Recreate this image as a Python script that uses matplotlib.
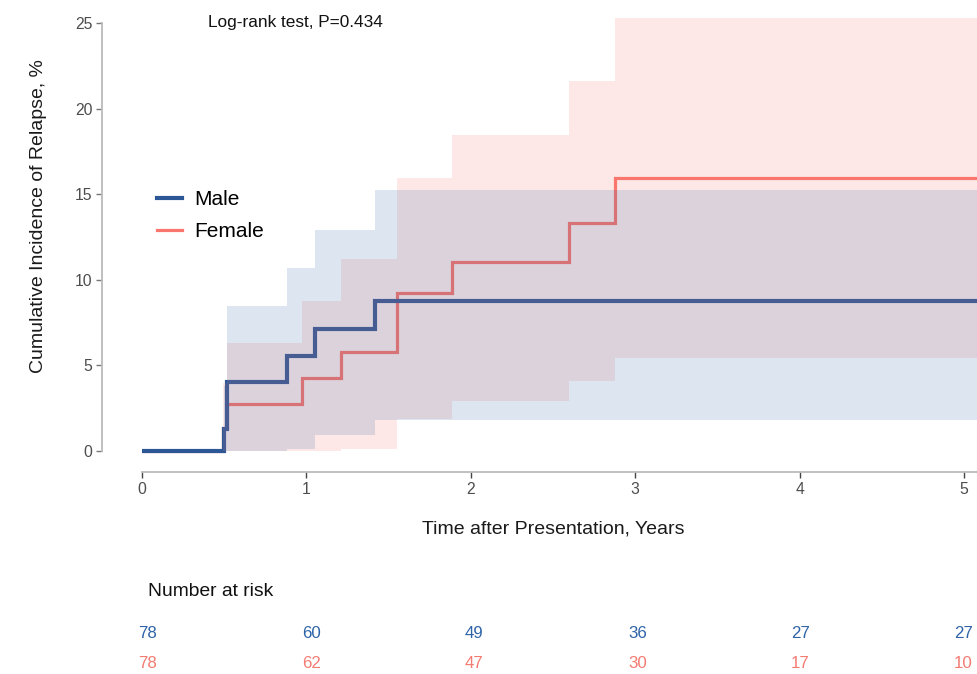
import matplotlib
matplotlib.use("Agg")
import matplotlib.pyplot as plt
import matplotlib.transforms as mtransforms
from matplotlib.lines import Line2D

plt.rcParams['font.family'] = ['Liberation Sans', 'DejaVu Sans']

# ---------------- data ----------------
groups = ["Male", "Female"]
t_end = 5.3

male_t = [0, 0.50, 0.52, 0.88, 1.05, 1.42, t_end]
male_y = [0, 1.3, 4.05, 5.55, 7.15, 8.75, 8.75]
male_band_t = [0, 0.50, 0.52, 0.88, 1.05, 1.42, t_end]
male_lo = [0, 0, 0, 0.1, 0.93, 1.8, 1.8]
male_hi = [0, 3.8, 8.47, 10.7, 12.9, 15.25, 15.25]

female_t = [0, 0.49, 0.52, 0.975, 1.21, 1.55, 1.885, 2.60, 2.88, t_end]
female_y = [0, 1.35, 2.72, 4.25, 5.8, 9.2, 11.05, 13.3, 15.95, 15.95]
female_band_t = [0, 0.49, 0.52, 0.975, 1.21, 1.55, 1.885, 2.60, 2.88, t_end]
female_lo = [0, 0, 0, 0, 0.1, 1.85, 2.92, 4.09, 5.43, 5.43]
female_hi = [0, 3.97, 6.3, 8.76, 11.2, 15.95, 18.45, 21.6, 25.3, 25.3]

risk_times = [0, 1, 2, 3, 4, 5]
male_risk = [78, 60, 49, 36, 27, 27]
female_risk = [78, 62, 47, 30, 17, 10]

x_ticks = [0, 1, 2, 3, 4, 5]
y_ticks = [0, 5, 10, 15, 20, 25]

blue = "#2C5797"
red = "#F8766D"
blue_txt = "#2F63A8"
red_txt = "#F47B72"

# ---------------- figure ----------------
W, H = 978, 674
fig = plt.figure(figsize=(W / 100, H / 100), dpi=100)

def fx(px):
    return px / W

def fy(py):
    return 1 - py / H

ax_l, ax_r, ax_t, ax_b = 102, 978, 15, 472
ax = fig.add_axes([fx(ax_l), fy(ax_b), fx(ax_r - ax_l), (ax_b - ax_t) / H])

xpx = 164.4
ypx = 17.12
ax.set_xlim(-(142 - ax_l) / xpx, (ax_r - 142) / xpx)
ax.set_ylim(-(ax_b - 451) / ypx, 25 + (23 - ax_t) / ypx)

# lines first, bands on top (as in reference)
ax.step(female_t, female_y, where='post', color=red, lw=2.3, zorder=2,
        solid_capstyle='butt', solid_joinstyle='miter')
ax.step(male_t, male_y, where='post', color=blue, lw=3.0, zorder=3,
        solid_capstyle='butt', solid_joinstyle='miter')
ax.fill_between(female_band_t, female_lo, female_hi, step='post',
                color=red, alpha=0.16, lw=0, zorder=4)
ax.fill_between(male_band_t, male_lo, male_hi, step='post',
                color="#2C62A8", alpha=0.16, lw=0, zorder=5)

for s in ['top', 'right']:
    ax.spines[s].set_visible(False)
ax.spines['left'].set_bounds(0, 25)
ax.spines['bottom'].set_bounds(0, ax.get_xlim()[1])
ax.spines['left'].set_color('#BBBBBB')
ax.spines['bottom'].set_color('#BBBBBB')
ax.spines['left'].set_linewidth(1.3)
ax.spines['bottom'].set_linewidth(1.3)

ax.set_xticks(x_ticks)
ax.set_yticks(y_ticks)
ax.set_xticklabels([str(v) for v in x_ticks])
ax.set_yticklabels([str(v) for v in y_ticks])
ax.tick_params(axis='both', labelsize=11.3, labelcolor='#4D4D4D',
               length=4, width=1.0, pad=3)
ax.tick_params(axis='x', color='#444444')
ax.tick_params(axis='y', color='#777777')

ax.set_xlabel("Time after Presentation, Years", fontsize=14, color='#1a1a1a')
ax.set_ylabel("Cumulative Incidence of Relapse, %", fontsize=14, color='#1a1a1a')
ax.xaxis.set_label_coords((553 - ax_l) / (ax_r - ax_l), -(521 - ax_b) / (ax_b - ax_t))
ax.yaxis.set_label_coords(-(ax_l - 47) / (ax_r - ax_l), (ax_b - 216) / (ax_b - ax_t))

fig.text(fx(208), fy(22), "Log-rank test, P=0.434", fontsize=12.4,
         ha='left', va='center', color='#111111')

handles = [Line2D([], [], color=blue, lw=3.0),
           Line2D([], [], color=red, lw=2.3)]
leg = ax.legend(handles, groups, loc='upper left',
                bbox_to_anchor=(fx(157), fy(190)), bbox_transform=fig.transFigure,
                frameon=False, fontsize=15, handlelength=1.2, handletextpad=0.6,
                labelspacing=0.62, borderpad=0, borderaxespad=0)

# ---------------- risk table ----------------
tab = fig.add_axes([fx(ax_l), 0, fx(ax_r - ax_l), fy(600)])
tab.set_xlim(-(148 - ax_l) / 163.1, (ax_r - 148) / 163.1)
tab.axis('off')
tr = mtransforms.blended_transform_factory(tab.transData, fig.transFigure)
fig.text(fx(148), fy(592), "Number at risk", fontsize=13.9, ha='left', va='center',
         color='#111111')
for t, n in zip(risk_times, male_risk):
    tab.text(t, fy(634), str(n), transform=tr, ha='center', va='center',
             fontsize=12.2, color=blue_txt)
for t, n in zip(risk_times, female_risk):
    tab.text(t, fy(663), str(n), transform=tr, ha='center', va='center',
             fontsize=12.2, color=red_txt)

fig.savefig("out.png", dpi=100)
